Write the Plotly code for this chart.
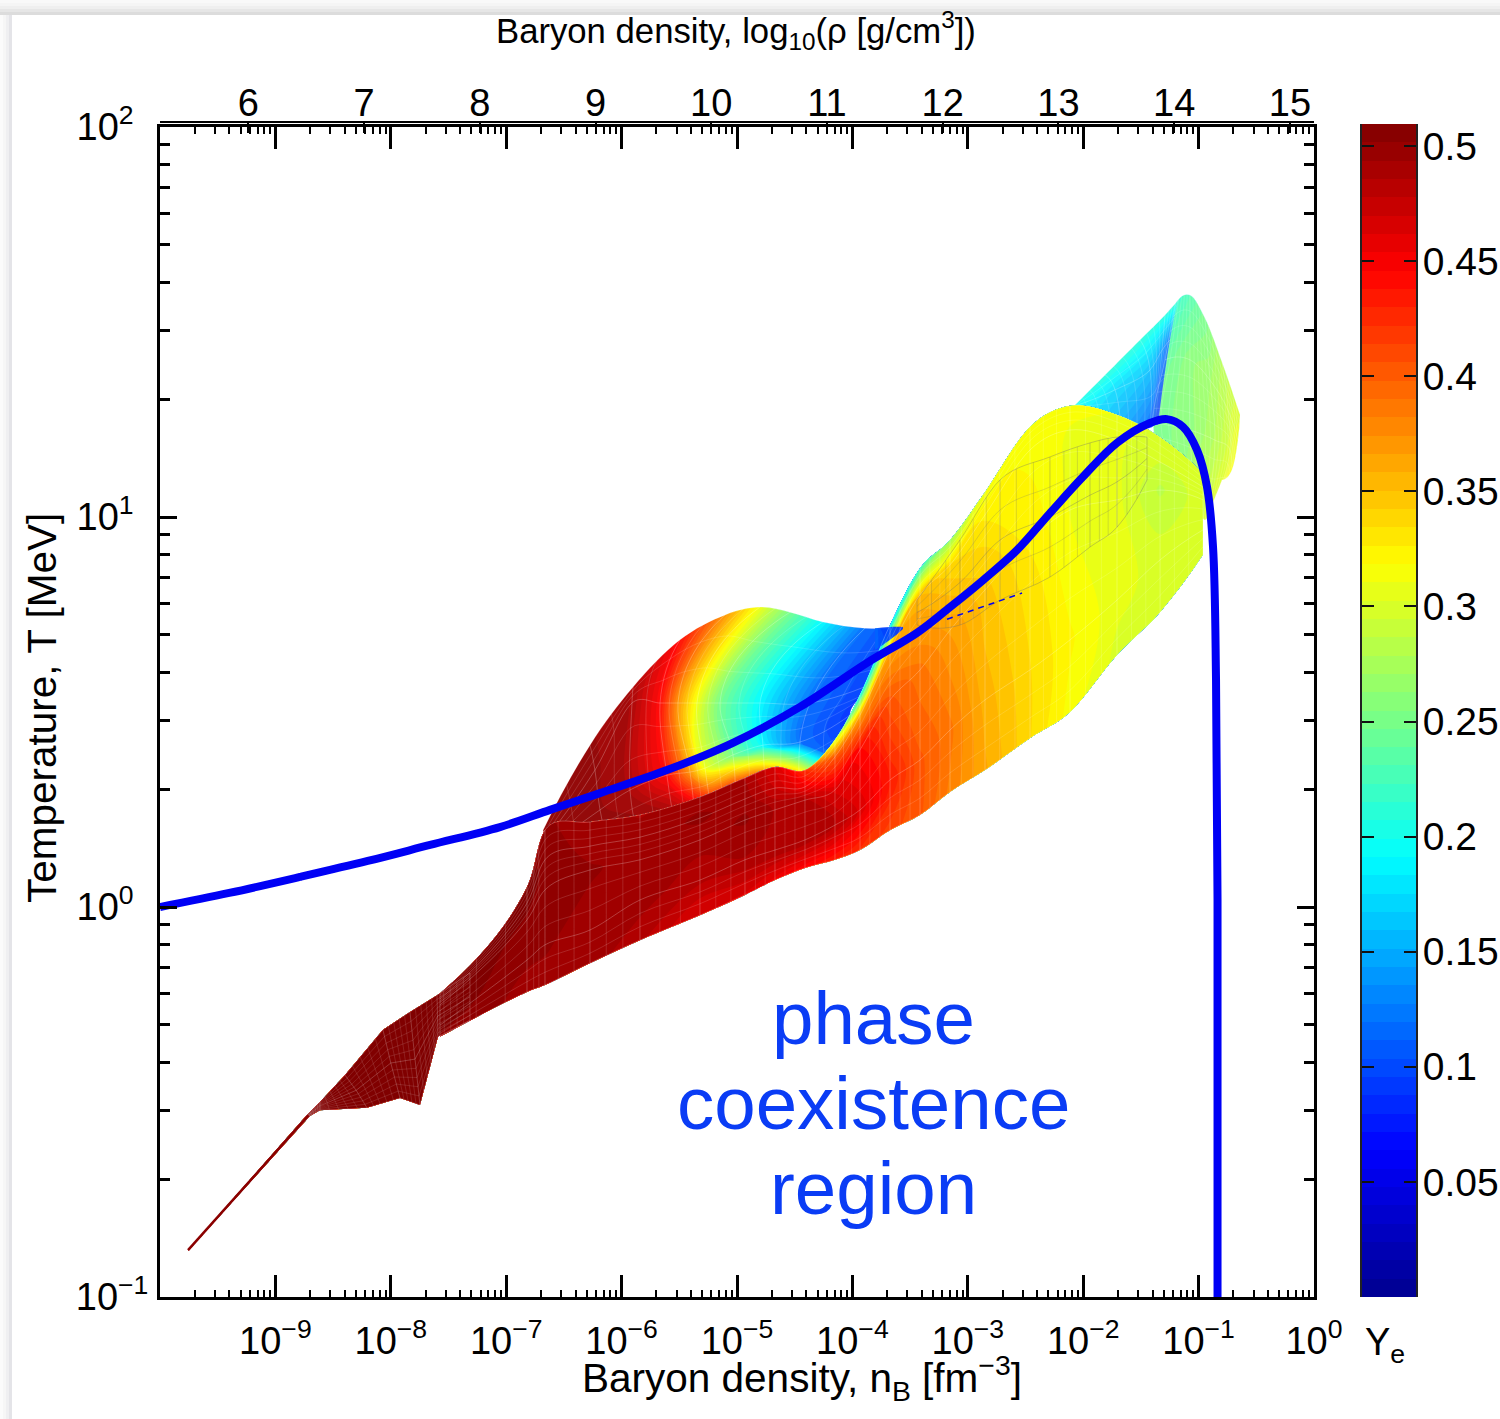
import plotly.graph_objects as go

# ---------- data (all log10 n_B [fm^-3], log10 T [MeV], Ye) ----------
YE_MAX = 0.5096
YE_TICKS = [0.05, 0.1, 0.15, 0.2, 0.25, 0.3, 0.35, 0.4, 0.45, 0.5]
NB_TICK_EXP = [-9, -8, -7, -6, -5, -4, -3, -2, -1, 0]
T_TICK_EXP = [-1, 0, 1, 2]
RHO_TICKS = [6, 7, 8, 9, 10, 11, 12, 13, 14, 15]

curve_log_nB = [-10.0, -9.4, -8.787, -8.2, -7.660, -7.054, -6.620, -6.187, -5.607, -5.035, -4.454, -3.873, -3.440, -3.154,
                -2.868, -2.574, -2.288, -2.002, -1.707, -1.421, -1.274, -1.135, -1.014, -0.927, -0.875, -0.849,
                -0.836, -0.836]
curve_log_T = [0.0, 0.036, 0.077, 0.118, 0.159, 0.205, 0.249, 0.292, 0.351, 0.421, 0.513, 0.626, 0.703, 0.769,
               0.838, 0.915, 1.010, 1.103, 1.190, 1.241, 1.251, 1.231, 1.172, 1.077, 0.923, 0.582,
               0.018, -1.0]
dash_log_nB = [-3.180, -2.530]
dash_log_T = [0.738, 0.805]

# thin start of the tail
spike_x = [-9.757, -8.713]
spike_y = [-0.880, -0.534]

# tail of the low-density sheet
tail_x = [[-9.757, -8.700, -8.614, -8.206, -7.920, -7.747, -7.591, -7.314],
          [-9.757, -8.713, -8.614, -8.300, -8.000, -7.790, -7.595, -7.314],
          [-9.757, -8.726, -8.614, -8.397, -8.068, -7.834, -7.600, -7.314]]
tail_y = [[-0.882, -0.536, -0.521, -0.515, -0.490, -0.508, -0.333, -0.290],
          [-0.880, -0.534, -0.510, -0.470, -0.400, -0.390, -0.280, -0.230],
          [-0.879, -0.533, -0.500, -0.431, -0.315, -0.269, -0.226, -0.169]]
tail_z = [[0.503] * 8, [0.505] * 8, [0.507] * 8]

# front sheet
front_col = [-7.574, -6.820, -6.664, -6.274, -5.841, -5.321, -4.931, -4.671, -4.411, -4.151,
             -3.934, -3.674, -3.414, -3.154, -2.851, -2.461, -2.114, -1.707, -1.334, -0.962]
front_y = [
    [-.333, -.218, -.200, -.144, -.085, -.021, .031, .069, .100, .121, .146, .197, .236, .295, .351, .433, .500, .646, .756, .903],
    [-.303, -.136, -.097, -.059, .018, .069, .121, .146, .172, .210, .249, .326, .377, .454, .531, .608, .685, .787, .890, .967],
    [-.251, -.033, .044, .095, .121, .172, .223, .249, .274, .300, .403, .531, .608, .710, .813, .941, 1.018, 1.044, 1.069, 1.044],
    [-.236, .010, .121, .156, .179, .228, .277, .305, .308, .385, .492, .659, .800, .877, 1.005, 1.172, 1.223, 1.197, 1.141, 1.077],
    [-.221, .051, .197, .218, .236, .282, .331, .359, .351, .428, .544, .723, .869, .941, 1.064, 1.231, 1.285, 1.262, 1.205, 1.113]]
front_z = [
    [.500, .49, .49, .49, .48, .46, .46, .45, .44, .43, .42, .41, .40, .38, .36, .335, .315, .30, .295, .295],
    [.505, .495, .495, .49, .49, .48, .485, .485, .485, .48, .46, .43, .40, .385, .355, .335, .32, .305, .30, .30],
    [.505, .50, .50, .495, .49, .49, .495, .485, .48, .46, .44, .40, .385, .365, .345, .325, .31, .305, .285, .30],
    [.505, .505, .50, .49, .49, .495, .49, .47, .45, .40, .36, .36, .35, .335, .325, .315, .31, .305, .295, .30],
    [.505, .505, .495, .49, .485, .49, .485, .46, .42, .30, .20, .18, .22, .27, .31, .315, .315, .31, .30, .30]]

# rainbow dome
dome_x = [
    [-6.664, -6.101, -5.841, -5.537, -5.364, -5.217, -5.017, -4.757, -4.454, -3.934],
    [-6.664, -6.187, -5.927, -5.607, -5.407, -5.277, -5.035, -4.775, -4.454, -4.021],
    [-6.664, -6.231, -5.910, -5.667, -5.511, -5.347, -5.147, -4.801, -4.367, -3.761],
    [-6.681, -6.274, -5.901, -5.494, -5.104, -4.801, -4.541, -4.255, -3.891, -3.562]]
dome_y = [
    [.121, .146, .172, .210, .223, .236, .274, .300, .300, .377],
    [.146, .249, .300, .338, .346, .356, .390, .415, .423, .492],
    [.172, .351, .523, .523, .523, .523, .523, .523, .523, .582],
    [.197, .415, .564, .685, .749, .769, .756, .731, .715, .718]]
dome_z = [
    [.505, .505, .505, .505, .50, .50, .50, .50, .45, .09],
    [.50, .495, .485, .44, .37, .31, .25, .19, .12, .09],
    [.50, .495, .485, .44, .37, .31, .25, .19, .12, .09],
    [.50, .495, .485, .44, .37, .31, .25, .19, .12, .09]]

# blue tip of the dome, lying over the front sheet
tip_x = [[-3.804, -3.674, -3.562], [-3.804, -3.674, -3.562]]
tip_y = [[.659, .685, .713], [.715, .718, .718]]
tip_z = [[.115, .10, .09], [.115, .10, .09]]

# blue sheet behind the yellow dome
blue_x = [[-2.071, -1.811, -1.508, -1.291, -1.179],
          [-2.071, -1.724, -1.421, -1.317, -1.248],
          [-2.062, -1.681, -1.421, -1.378, -1.352]]
blue_y = [[1.287, 1.364, 1.454, 1.518, 1.556],
          [1.285, 1.326, 1.377, 1.428, 1.454],
          [1.279, 1.254, 1.228, 1.236, 1.236]]
blue_z = [[.205, .21, .21, .21, .22],
          [.20, .175, .16, .14, .12],
          [.19, .155, .115, .09, .085]]

# green sheet on the far right
green_x = [[-1.196, -1.075, -.945, -.797, -.641],
           [-1.291, -1.075, -.901, -.745, -.659],
           [-1.395, -1.075, -.858, -.728, -.711],
           [-1.248, -1.031, -.945, -.884, -.797]]
green_y = [[1.549, 1.569, 1.510, 1.397, 1.262],
           [1.403, 1.403, 1.351, 1.274, 1.197],
           [1.241, 1.223, 1.197, 1.172, 1.121],
           [1.121, 1.044, .992, 1.031, 1.095]]
green_z = [[.215, .23, .25, .28, .30],
           [.24, .26, .27, .29, .31],
           [.25, .26, .28, .30, .315],
           [.25, .28, .30, .31, .32]]

# grey mesh patch
mesh_col = [-3.440, -3.068, -2.721, -2.288, -1.941, -1.707, -1.447]
mesh_y = [[.723, .723, .787, .846, .923, .974, 1.095],
          [.755, .832, .941, 1.0, 1.056, 1.09, 1.15],
          [.787, .941, 1.095, 1.154, 1.190, 1.205, 1.205]]

# ---------- styling ----------
FONT = "Liberation Sans"
JET = [[0, "rgb(0,0,143)"], [0.125, "rgb(0,0,255)"], [0.375, "rgb(0,255,255)"],
       [0.625, "rgb(255,255,0)"], [0.875, "rgb(255,0,0)"], [1, "rgb(128,0,0)"]]
N_LEVELS = 64
STEP = YE_MAX / N_LEVELS
L, R, T, B = 160, 84, 122, 122
W, H = 1500, 1419
PW, PH = W - L - R, H - T - B
AX_DOM_X = [0, (1314 - 160) / PW]
AX_DOM_Y = [0, (1297 - 127) / PH]


def px(x):
    return (x - L) / PW


def py(y):
    return 1 - (y - T) / PH


fig = go.Figure()


def sheet(name, x, y, z, ax, grid="rgba(255,255,255,0.34)", minor="rgba(255,255,255,0.24)",
          mina=2, minb=2, smooth=1.0, opacity=1.0):
    nrow, ncol = len(x), len(x[0])
    xa, ya = ("x" + ax, "y" + ax) if ax else ("x", "y")
    axis = dict(tickmode="linear", tick0=0, dtick=1, showticklabels="none", startline=False, endline=False,
                gridcolor=grid, gridwidth=0.7, minorgridcolor=minor, minorgridwidth=0.6, smoothing=smooth,
                showline=False)
    fig.add_trace(go.Carpet(carpet=name, a=list(range(ncol)), b=list(range(nrow)), x=x, y=y,
                            aaxis=dict(axis, minorgridcount=mina), baxis=dict(axis, minorgridcount=minb),
                            xaxis=xa, yaxis=ya))
    if z is not None:
        fig.add_trace(go.Contourcarpet(carpet=name, z=z, autocontour=False,
                                       contours=dict(start=STEP, end=YE_MAX - STEP, size=STEP, coloring="fill",
                                                     showlines=False),
                                       line=dict(width=0, smoothing=1), colorscale=JET, zmin=0, zmax=YE_MAX,
                                       showscale=False, opacity=opacity, xaxis=xa, yaxis=ya))


# back layer
sheet("green", green_x, green_y, green_z, "", mina=4, minb=3, opacity=0.9)
sheet("blue", blue_x, blue_y, blue_z, "", opacity=0.88, mina=3, minb=1)
sheet("dome", dome_x, dome_y, dome_z, "", opacity=0.96, mina=1, minb=2)
# front layer
sheet("tail", tail_x, tail_y, tail_z, "2", smooth=0, mina=4, minb=4,
      grid="rgba(255,255,255,0.3)", minor="rgba(255,255,255,0.2)")
sheet("front", [front_col] * 5, front_y, front_z, "2", mina=2, minb=2)
sheet("tip", tip_x, tip_y, tip_z, "2", mina=0, minb=0, opacity=0.93,
      grid="rgba(255,255,255,0)", minor="rgba(255,255,255,0)")
sheet("mesh", [mesh_col] * 3, mesh_y, None, "2", grid="rgba(110,110,110,0.5)", minor="rgba(110,110,110,0.4)",
      mina=2, minb=1)
fig.add_trace(go.Scatter(x=spike_x, y=spike_y, mode="lines", line=dict(color="#8b0000", width=2.5),
                         xaxis="x2", yaxis="y2", showlegend=False, hoverinfo="skip"))

# curve on the visible log axes
fig.add_trace(go.Scatter(x=[10 ** v for v in curve_log_nB], y=[10 ** v for v in curve_log_T], mode="lines",
                         line=dict(color="#0000f5", width=8, shape="spline", smoothing=1.0),
                         xaxis="x3", yaxis="y3", showlegend=False, hoverinfo="skip"))
fig.add_trace(go.Scatter(x=[10 ** v for v in dash_log_nB], y=[10 ** v for v in dash_log_T], mode="lines",
                         line=dict(color="#0000f5", width=1.5, dash="6px,5px"),
                         xaxis="x3", yaxis="y3", showlegend=False, hoverinfo="skip"))
# keeps the density axis along the top in the page
fig.add_trace(go.Scatter(x=RHO_TICKS, y=[None] * len(RHO_TICKS), mode="lines", xaxis="x4", yaxis="y3",
                         showlegend=False, hoverinfo="skip"))

# colour bar drawn as its own heat map
levels = [(i + 0.5) * STEP for i in range(N_LEVELS)]
fig.add_trace(go.Heatmap(z=[[v] for v in levels], y=levels, x=[0], colorscale=JET, zmin=0, zmax=YE_MAX,
                         showscale=False, xaxis="x5", yaxis="y5", hoverinfo="skip"))

tickfont = dict(family=FONT, size=38, color="black")
hidden = dict(visible=False, domain=AX_DOM_X)
hiddeny = dict(visible=False, domain=AX_DOM_Y)
minor_x = [k * 10.0 ** d for d in range(-10, 0) for k in range(2, 10)]
minor_y = [k * 10.0 ** d for d in range(-1, 2) for k in range(2, 10)]
NBSP = "\u00a0"

fig.update_layout(
    width=W, height=H, margin=dict(l=L, r=R, t=T, b=B, autoexpand=False), paper_bgcolor="white",
    plot_bgcolor="rgba(0,0,0,0)", showlegend=False,
    xaxis=dict(hidden, range=[-10, 0]),
    yaxis=dict(hiddeny, range=[-1, 2]),
    xaxis2=dict(hidden, range=[-10, 0], overlaying="x"),
    yaxis2=dict(hiddeny, range=[-1, 2], overlaying="y"),
    xaxis3=dict(type="log", range=[-10, 0], domain=AX_DOM_X, overlaying="x", anchor="y3", side="bottom",
                tickmode="array", tickvals=[10.0 ** e for e in NB_TICK_EXP],
                ticktext=[f"10<sup>{'−' + str(-e) if e < 0 else e}</sup>" for e in NB_TICK_EXP],
                ticks="inside", ticklen=22, tickwidth=2.5, tickcolor="black", ticklabelstandoff=8,
                minor=dict(tickmode="array", tickvals=minor_x, ticks="inside", ticklen=7, tickwidth=1.5,
                           tickcolor="black"),
                showline=True, linecolor="black", linewidth=3, mirror="ticks", showgrid=False, zeroline=False,
                tickfont=tickfont),
    yaxis3=dict(type="log", range=[-1, 2], domain=AX_DOM_Y, overlaying="y", anchor="x3", side="left",
                tickmode="array", tickvals=[10.0 ** e for e in T_TICK_EXP],
                ticktext=[f"10<sup>−1</sup>" if e < 0 else f"10<sup>{e}{NBSP * 2}</sup>" for e in T_TICK_EXP],
                ticks="inside", ticklen=17, tickwidth=3, tickcolor="black", ticklabelstandoff=1,
                minor=dict(tickmode="array", tickvals=minor_y, ticks="inside", ticklen=10, tickwidth=3,
                           tickcolor="black"),
                showline=True, linecolor="black", linewidth=3, mirror="ticks", showgrid=False, zeroline=False,
                tickfont=tickfont),
    xaxis4=dict(range=[5.237, 15.208], domain=AX_DOM_X, overlaying="x", anchor="free", position=1, side="top",
                tickmode="array", tickvals=RHO_TICKS, ticks="inside", ticklen=10, tickwidth=1.5, tickcolor="black",
                showline=True, linecolor="black", linewidth=1.5, showgrid=False, zeroline=False, tickfont=tickfont,
                ticklabelstandoff=-10),
    xaxis5=dict(domain=[px(1362), 1], anchor="y5", visible=False, range=[-0.5, 0.5]),
    yaxis5=dict(domain=[0, (1297 - 124) / PH], anchor="x5", side="right", range=[0, YE_MAX], tickmode="array",
                tickvals=YE_TICKS,
                ticktext=[f"{v:g}" for v in YE_TICKS], ticks="inside", ticklen=12, tickwidth=2, tickcolor="#111",
                showline=True, linecolor="#222", linewidth=2, mirror="ticks", showgrid=False, zeroline=False,
                ticklabelstandoff=-3, tickfont=dict(tickfont, size=39)),
)

# page shadow along the top and left edges
shapes = []
steps = [("#f9f9f9", 0, 3), ("#f5f5f5", 3, 6), ("#efefef", 6, 9), ("#e6e6e6", 9, 12), ("#dcdcdc", 12, 15)]
for colour, a, b in steps:
    shapes.append(dict(type="rect", xref="paper", yref="paper", x0=px(0), x1=px(W), y0=py(a), y1=py(b),
                       fillcolor=colour, line_width=0, layer="below"))
steps = [("#fbfbfb", 0, 3), ("#f6f6f6", 3, 6), ("#efeff1", 6, 9), ("#e4e4e8", 9, 12)]
for colour, a, b in steps:
    shapes.append(dict(type="rect", xref="paper", yref="paper", x0=px(a), x1=px(b), y0=py(15), y1=py(H),
                       fillcolor=colour, line_width=0, layer="below"))
fig.update_layout(shapes=shapes)


def label(text, x, y, size=38, color="black", angle=0):
    fig.add_annotation(text=text, x=px(x), y=py(y), xref="paper", yref="paper", showarrow=False, textangle=angle,
                       xanchor="center", yanchor="middle", font=dict(family=FONT, size=size, color=color))


label("Baryon density, log<sub>10</sub>(ρ [g/cm<sup>3</sup>])", 736, 30, size=34.7)
label("Baryon density, n<sub>B</sub> [fm<sup>−3</sup>]", 802, 1378, size=40.5)
label("Temperature, T [MeV]", 42, 708, size=40.5, angle=-90)
label("Y<sub>e</sub>", 1385, 1345)
for text, y in zip(["phase", "coexistence", "region"], [1018, 1103, 1188]):
    label(text, 873, y, size=74.5, color="#0a3cf5")

fig.write_html("out.html", config={"displayModeBar": False},
               post_script="document.body.style.margin='0';document.body.style.overflow='hidden';")
